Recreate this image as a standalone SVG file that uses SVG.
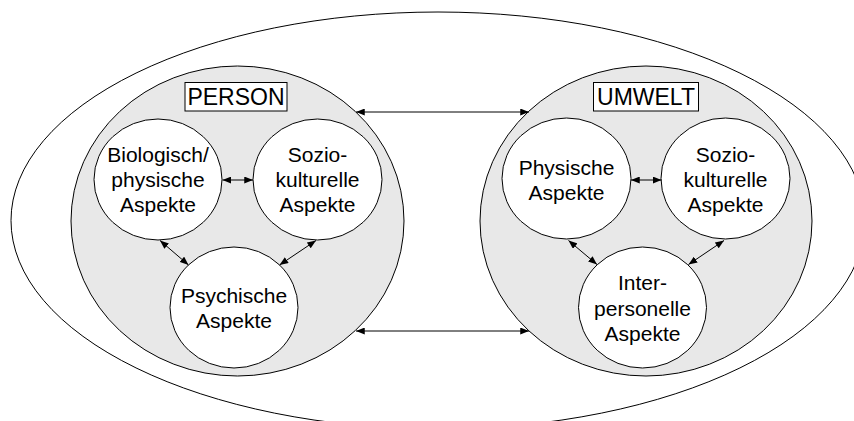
<svg xmlns="http://www.w3.org/2000/svg" width="854" height="421" viewBox="0 0 854 421">
<style>
.ol{fill:none;stroke:#000;stroke-width:1}
.grp{fill:#e8e8e8;stroke:#000;stroke-width:1}
.nd{fill:#fff;stroke:#000;stroke-width:1}
.t{font-family:"Liberation Sans",Arial,sans-serif;font-size:21px;fill:#000;text-anchor:middle}
.h{font-family:"Liberation Sans",Arial,sans-serif;font-size:23px;fill:#000;text-anchor:middle}
.box{fill:#fff;stroke:#000;stroke-width:1}
.c{fill:none;stroke:#000;stroke-width:1;marker-start:url(#ah);marker-end:url(#ah)}
</style>
<defs>
<marker id="ah" viewBox="0 0 10 8" refX="10" refY="4" markerWidth="9" markerHeight="7" markerUnits="userSpaceOnUse" orient="auto-start-reverse">
<path d="M0,0 L10,4 L0,8 z" fill="#000"/>
</marker>
</defs>
<rect width="854" height="421" fill="#fff"/>
<g id="outer">
<ellipse class="ol" cx="438" cy="220.5" rx="427" ry="208.5"/>
</g>
<g id="person">
<ellipse class="grp" cx="237.5" cy="221" rx="166.5" ry="155"/>
<rect class="box" x="185" y="82.5" width="102" height="28.5"/>
<text class="h" x="236" y="105">PERSON</text>
</g>
<g id="umwelt">
<ellipse class="grp" cx="646" cy="221" rx="166" ry="155"/>
<rect class="box" x="593.5" y="82.5" width="105" height="28.5"/>
<text class="h" x="646" y="105">UMWELT</text>
</g>
<g id="bio">
<ellipse class="nd" cx="158" cy="179.5" rx="64" ry="60.5"/>
<text class="t" x="158" y="162">Biologisch/</text>
<text class="t" x="158" y="187">physische</text>
<text class="t" x="158" y="212">Aspekte</text>
</g>
<g id="sozio-p">
<ellipse class="nd" cx="317.5" cy="179.5" rx="64.5" ry="60.5"/>
<text class="t" x="317.5" y="162">Sozio-</text>
<text class="t" x="317.5" y="187">kulturelle</text>
<text class="t" x="317.5" y="212">Aspekte</text>
</g>
<g id="psych">
<ellipse class="nd" cx="234" cy="307.5" rx="64" ry="60.5"/>
<text class="t" x="234" y="302.5">Psychische</text>
<text class="t" x="234" y="328">Aspekte</text>
</g>
<g id="phys">
<ellipse class="nd" cx="566.5" cy="178.5" rx="64.5" ry="60.5"/>
<text class="t" x="566.5" y="175">Physische</text>
<text class="t" x="566.5" y="200">Aspekte</text>
</g>
<g id="sozio-u">
<ellipse class="nd" cx="725.5" cy="178.5" rx="64.5" ry="60.5"/>
<text class="t" x="725.5" y="162">Sozio-</text>
<text class="t" x="725.5" y="187">kulturelle</text>
<text class="t" x="725.5" y="212">Aspekte</text>
</g>
<g id="inter">
<ellipse class="nd" cx="642.5" cy="307.5" rx="64" ry="60.5"/>
<text class="t" x="642.5" y="290">Inter-</text>
<text class="t" x="642.5" y="315.5">personelle</text>
<text class="t" x="642.5" y="341">Aspekte</text>
</g>
<g id="connectors">
<line class="c" x1="356" y1="112" x2="529" y2="112"/>
<line class="c" x1="356" y1="331" x2="529" y2="331"/>
<line class="c" x1="222.5" y1="180" x2="253" y2="180"/>
<line class="c" x1="631" y1="180" x2="661.5" y2="180"/>
<line class="c" x1="160" y1="240.5" x2="188.5" y2="265"/>
<line class="c" x1="316" y1="240.5" x2="279.5" y2="265"/>
<line class="c" x1="568.5" y1="240.5" x2="597" y2="264.5"/>
<line class="c" x1="724" y1="240.5" x2="688.5" y2="264.5"/>
</g>
</svg>
